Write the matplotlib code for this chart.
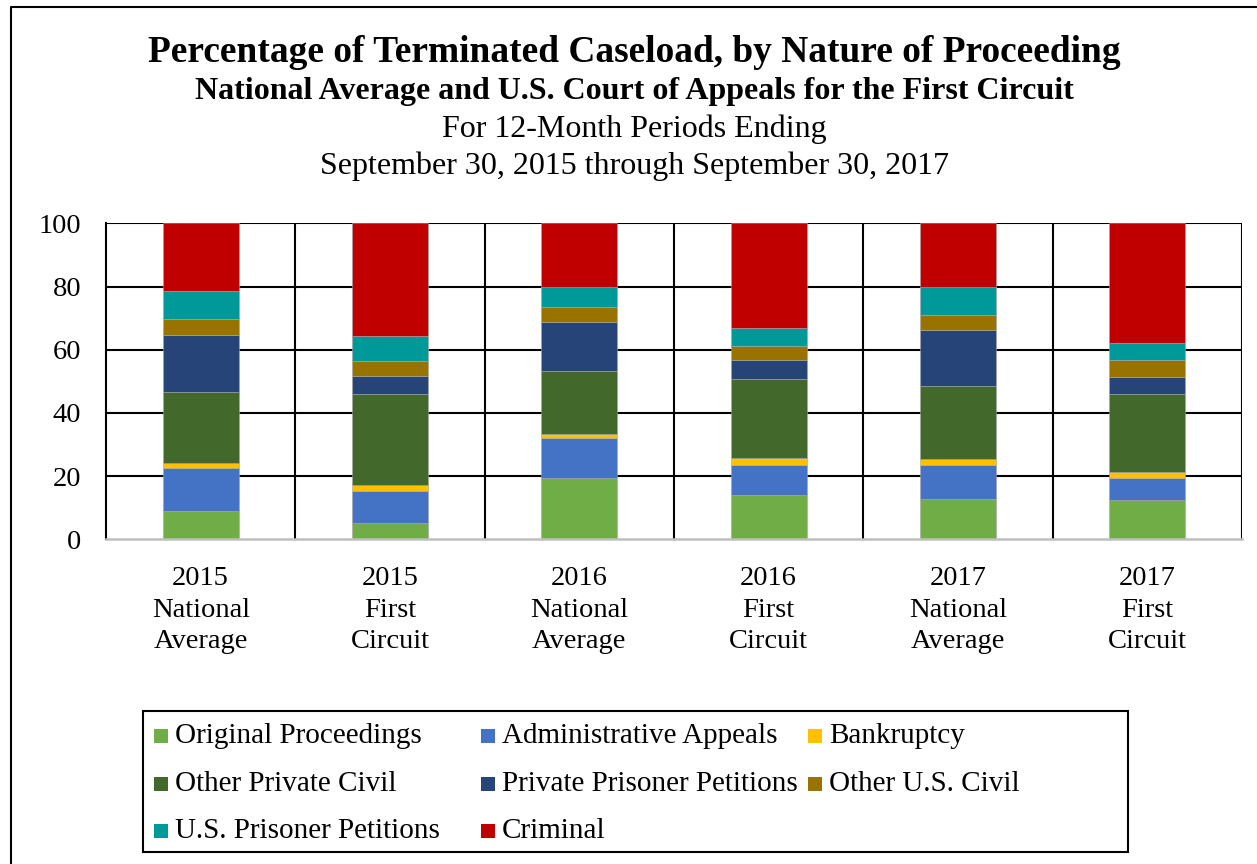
import matplotlib

matplotlib.use("Agg")
import matplotlib.pyplot as plt
import numpy as np
from matplotlib.lines import Line2D
from matplotlib.patches import Rectangle

plt.rcParams["font.family"] = ["Liberation Serif", "DejaVu Serif"]

# categories (x axis)
groups = [
    "2015\nNational\nAverage",
    "2015\nFirst\nCircuit",
    "2016\nNational\nAverage",
    "2016\nFirst\nCircuit",
    "2017\nNational\nAverage",
    "2017\nFirst\nCircuit",
]

# series, bottom to top (percent of terminated caseload)
original_proceedings = [9.1, 5.3, 19.4, 14.1, 12.9, 12.3]
administrative_appeals = [13.5, 10.0, 12.6, 9.4, 10.7, 7.1]
bankruptcy = [1.7, 2.0, 1.3, 2.1, 1.7, 2.0]
other_private_civil = [22.4, 28.7, 20.0, 25.1, 23.2, 24.5]
private_prisoner_petitions = [18.0, 5.7, 15.6, 6.0, 17.6, 5.5]
other_us_civil = [5.1, 4.8, 4.6, 4.6, 4.8, 5.3]
us_prisoner_petitions = [8.7, 7.7, 6.4, 5.5, 8.8, 5.5]
criminal = [21.5, 35.8, 20.1, 33.2, 20.3, 37.8]

series_names = [
    "Original Proceedings",
    "Administrative Appeals",
    "Bankruptcy",
    "Other Private Civil",
    "Private Prisoner Petitions",
    "Other U.S. Civil",
    "U.S. Prisoner Petitions",
    "Criminal",
]
series = [
    original_proceedings,
    administrative_appeals,
    bankruptcy,
    other_private_civil,
    private_prisoner_petitions,
    other_us_civil,
    us_prisoner_petitions,
    criminal,
]
colors = [
    "#70AD47",
    "#4472C4",
    "#FFC000",
    "#43682B",
    "#264478",
    "#997300",
    "#009999",
    "#C00000",
]

W, H = 1257, 864
fig = plt.figure(figsize=(W / 100, H / 100), dpi=100)
fig.patch.set_facecolor("white")

# plot area in pixels: x 106..1242, y 223..539
ax = fig.add_axes([106 / W, 1 - 539.3 / H, (1242 - 106) / W, (539.3 - 223.3) / H])

x = np.arange(len(groups))
bottom = np.zeros(len(groups))
for name, vals, col in zip(series_names, series, colors):
    vals = np.asarray(vals)
    ax.bar(x, vals, 0.4, bottom=bottom, color=col, edgecolor="#a6a6a6",
           linewidth=0.4, zorder=3, label=name)
    bottom += vals

ax.set_xlim(-0.5, len(groups) - 0.5)
ax.set_ylim(0, 100)
ax.set_yticks([0, 20, 40, 60, 80, 100])
for yv in [20, 40, 60, 80, 100]:
    ax.axhline(yv, color="black", lw=1.5, zorder=1)
for xv in np.arange(len(groups)) + 0.5:
    ax.axvline(xv, color="black", lw=1.5, zorder=1)

ax.set_xticks(x)
ax.set_xticklabels(groups, fontsize=20.5, linespacing=1.36)
ax.tick_params(axis="x", length=0, pad=19)
ax.tick_params(axis="y", length=0, pad=18, labelsize=20.5)
for s in ["top", "right"]:
    ax.spines[s].set_visible(False)
ax.spines["left"].set_color("black")
ax.spines["left"].set_linewidth(1.5)
ax.spines["bottom"].set_color("#bfbfbf")
ax.spines["bottom"].set_linewidth(1.8)
ax.spines["bottom"].set_zorder(4)

# titles
cx = 634 / W
fig.text(cx, 1 - 62 / H, "Percentage of Terminated Caseload, by Nature of Proceeding",
         ha="center", va="baseline", fontsize=26.9, fontweight="bold")
fig.text(cx, 1 - 99 / H, "National Average and U.S. Court of Appeals for the First Circuit",
         ha="center", va="baseline", fontsize=23, fontweight="bold")
fig.text(cx, 1 - 137 / H, "For 12-Month Periods Ending",
         ha="center", va="baseline", fontsize=23)
fig.text(cx, 1 - 174 / H, "September 30, 2015 through September 30, 2017",
         ha="center", va="baseline", fontsize=23)

# legend box, filled row by row (3 columns)
fig.add_artist(Rectangle((143 / W, 1 - 852 / H), 985 / W, 141 / H,
                         transform=fig.transFigure, fill=False,
                         edgecolor="black", lw=1.5))
col_x = [154, 481, 808]
row_y = [736, 784, 831]
for i, (name, col) in enumerate(zip(series_names, colors)):
    r, c = divmod(i, 3)
    mx, my = col_x[c], row_y[r]
    fig.add_artist(Rectangle((mx / W, 1 - (my + 7) / H), 14 / W, 14 / H,
                             transform=fig.transFigure, color=col, lw=0))
    fig.text((mx + 21) / W, 1 - (my + 7) / H, name, ha="left", va="baseline",
             fontsize=21)

# outer chart border (left and top edges visible)
fig.add_artist(Line2D([11 / W, 11 / W, 1.0], [0.0, 1 - 7 / H, 1 - 7 / H],
                      transform=fig.transFigure, color="black", lw=1.5))

fig.savefig("out.png", dpi=100, facecolor="white")
